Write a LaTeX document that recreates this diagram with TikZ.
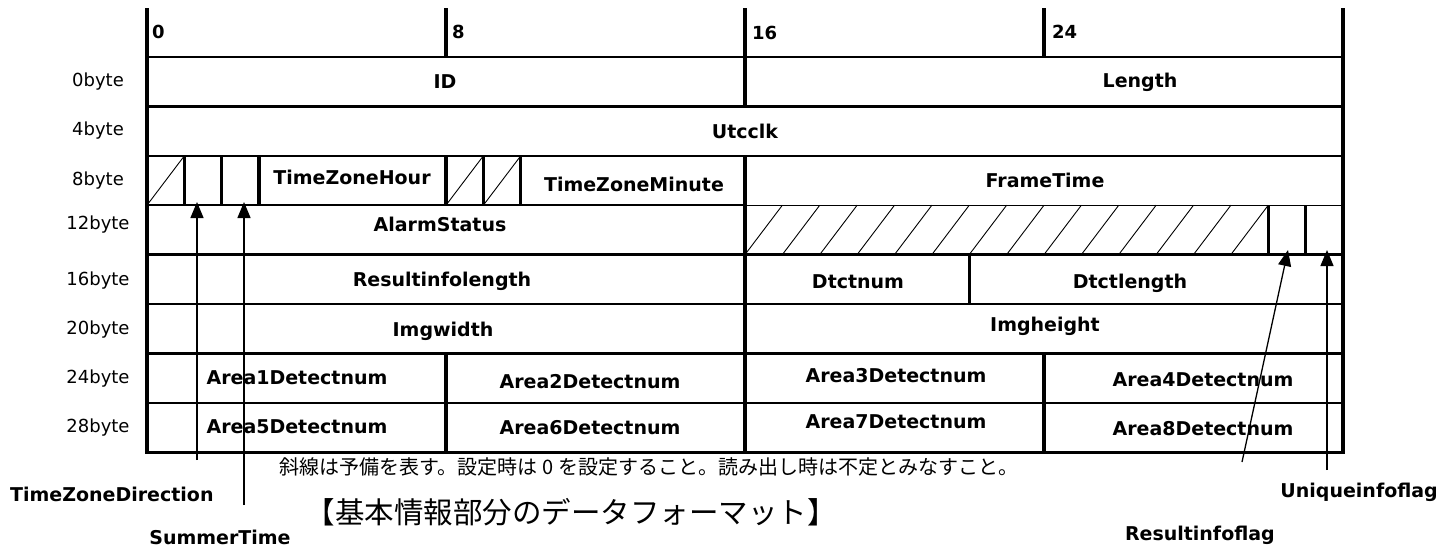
\documentclass[tikz,border=0pt]{standalone}
\usepackage{fontspec}
\setmainfont{DejaVu Sans}
\newfontfamily\cjk{Noto Sans CJK JP}
\usetikzlibrary{arrows.meta}
\begin{document}
\begin{tikzpicture}[x=1pt,y=-1pt,
  lbl/.style={font=\fontsize{19}{19}\selectfont\bfseries, inner sep=0pt},
  rowlbl/.style={font=\fontsize{18}{18}\selectfont, inner sep=0pt},
  hdr/.style={font=\fontsize{18}{18}\selectfont\bfseries, inner sep=0pt, anchor=west},
  frame/.style={line width=3.4pt},
  vdiv/.style={line width=3.4pt},
  hline/.style={line width=2.3pt},
  thinline/.style={line width=1.1pt},
  hatch/.style={line width=0.9pt},
  ptr/.style={line width=1.3pt, -{Triangle[length=16pt,width=13pt]}},
]
\useasboundingbox (0,0) rectangle (1445,547);
\def\bw{37.375}
% horizontal lines
\foreach \yy in {57,106.4,155.8,254.6,304,353.4,402.8}
  \draw[hline] (147,\yy) -- (1343,\yy);
\draw[hline] (147,205.2) -- (745,205.2);
\draw[thinline] (745,205.2) -- (1343,205.2);
% header dividers
\foreach \k in {8,16,24}
  \draw[vdiv] ({147+\k*\bw},8) -- ({147+\k*\bw},57);
% row 0 divider
\draw[vdiv] (745,57) -- (745,106.4);
% row 8 dividers
\foreach \k in {1,2,3,8,9,10,16}
  \draw[vdiv] ({147+\k*\bw},155.8) -- ({147+\k*\bw},205.2);
% row 8 hatches
\foreach \k in {0,8,9}
  \draw[hatch] ({147+\k*\bw},205.2) -- ({147+(\k+1)*\bw},155.8);
% row 12
\draw[vdiv] (745,205.2) -- (745,254.6);
\foreach \k in {30,31}
  \draw[vdiv] ({147+\k*\bw},205.2) -- ({147+\k*\bw},254.6);
\foreach \k in {16,...,29}
  \draw[hatch] ({147+\k*\bw},254.6) -- ({147+(\k+1)*\bw},205.2);
% row 16
\foreach \k in {16,22}
  \draw[vdiv] ({147+\k*\bw},254.6) -- ({147+\k*\bw},304);
% row 20
\draw[vdiv] (745,304) -- (745,353.4);
% rows 24,28
\foreach \k in {8,16,24}
  \draw[vdiv] ({147+\k*\bw},353.4) -- ({147+\k*\bw},452.2);
% frame
\draw[frame] (147,8) -- (147,452.2) -- (1343,452.2) -- (1343,8);

% header labels
\node[hdr] (h0) at (152,32) {0};
\node[hdr] (h8) at (452,32) {8};
\node[hdr] (h16) at (752,33) {16};
\node[hdr] (h24) at (1052,32) {24};

% row labels
\node[rowlbl] (r0) at (98,82) {0byte};
\node[rowlbl] (r4) at (98,131) {4byte};
\node[rowlbl] (r8) at (98,181) {8byte};
\node[rowlbl] (r12) at (98,225) {12byte};
\node[rowlbl] (r16) at (98,281) {16byte};
\node[rowlbl] (r20) at (98,330) {20byte};
\node[rowlbl] (r24) at (98,379) {24byte};
\node[rowlbl] (r28) at (98,428) {28byte};

% field labels
\node[lbl] (id) at (445,82) {ID};
\node[lbl] (len) at (1140,82) {Length};
\node[lbl] (utc) at (745,131) {Utcclk};
\node[lbl] (tzh) at (352,177) {TimeZoneHour};
\node[lbl] (tzm) at (634,184) {TimeZoneMinute};
\node[lbl] (ft) at (1045,180) {FrameTime};
\node[lbl] (as) at (440,224) {AlarmStatus};
\node[lbl] (ril) at (442,281) {Resultinfolength};
\node[lbl] (dn) at (858,282) {Dtctnum};
\node[lbl] (dl) at (1130,283) {Dtctlength};
\node[lbl] (iw) at (443,331) {Imgwidth};
\node[lbl] (ih) at (1045,326) {Imgheight};
\node[lbl] (a1) at (297,378) {Area1Detectnum};
\node[lbl] (a2) at (590,382) {Area2Detectnum};
\node[lbl] (a3) at (896,376) {Area3Detectnum};
\node[lbl] (a4) at (1203,380) {Area4Detectnum};
\node[lbl] (a5) at (297,427) {Area5Detectnum};
\node[lbl] (a6) at (590,428) {Area6Detectnum};
\node[lbl] (a7) at (896,422) {Area7Detectnum};
\node[lbl] (a8) at (1203,429) {Area8Detectnum};

% pointer labels
\node[lbl, anchor=west] (tzd) at (10,494) {TimeZoneDirection};
\node[lbl] (st) at (220,537) {SummerTime};
\node[lbl, anchor=east] (rif) at (1275,535) {Resultinfoflag};
\node[lbl, anchor=east] (uif) at (1438,492) {Uniqueinfoflag};

% pointers
\coordinate (tzdTip) at (197,202);
\coordinate (tzdTail) at (197,460);
\coordinate (stTip) at (244,202);
\coordinate (stTail) at (244,505);
\coordinate (rifTip) at (1288,250);
\coordinate (rifTail) at (1242,462);
\coordinate (uifTip) at (1327,250);
\coordinate (uifTail) at (1327,470);
\draw[ptr] (tzdTail) -- (tzdTip);
\draw[ptr] (stTail) -- (stTip);
\draw[ptr] (rifTail) -- (rifTip);
\draw[ptr] (uifTail) -- (uifTip);

% notes
\node[inner sep=0pt, font=\cjk\fontsize{20}{20}\selectfont] (note) at (649,467) {斜線は予備を表す。設定時は 0 を設定すること。読み出し時は不定とみなすこと。};
\node[inner sep=0pt, font=\cjk\fontsize{29.5}{29.5}\selectfont] (cap) at (571,512) {【基本情報部分のデータフォーマット】};
\end{tikzpicture}
\end{document}
